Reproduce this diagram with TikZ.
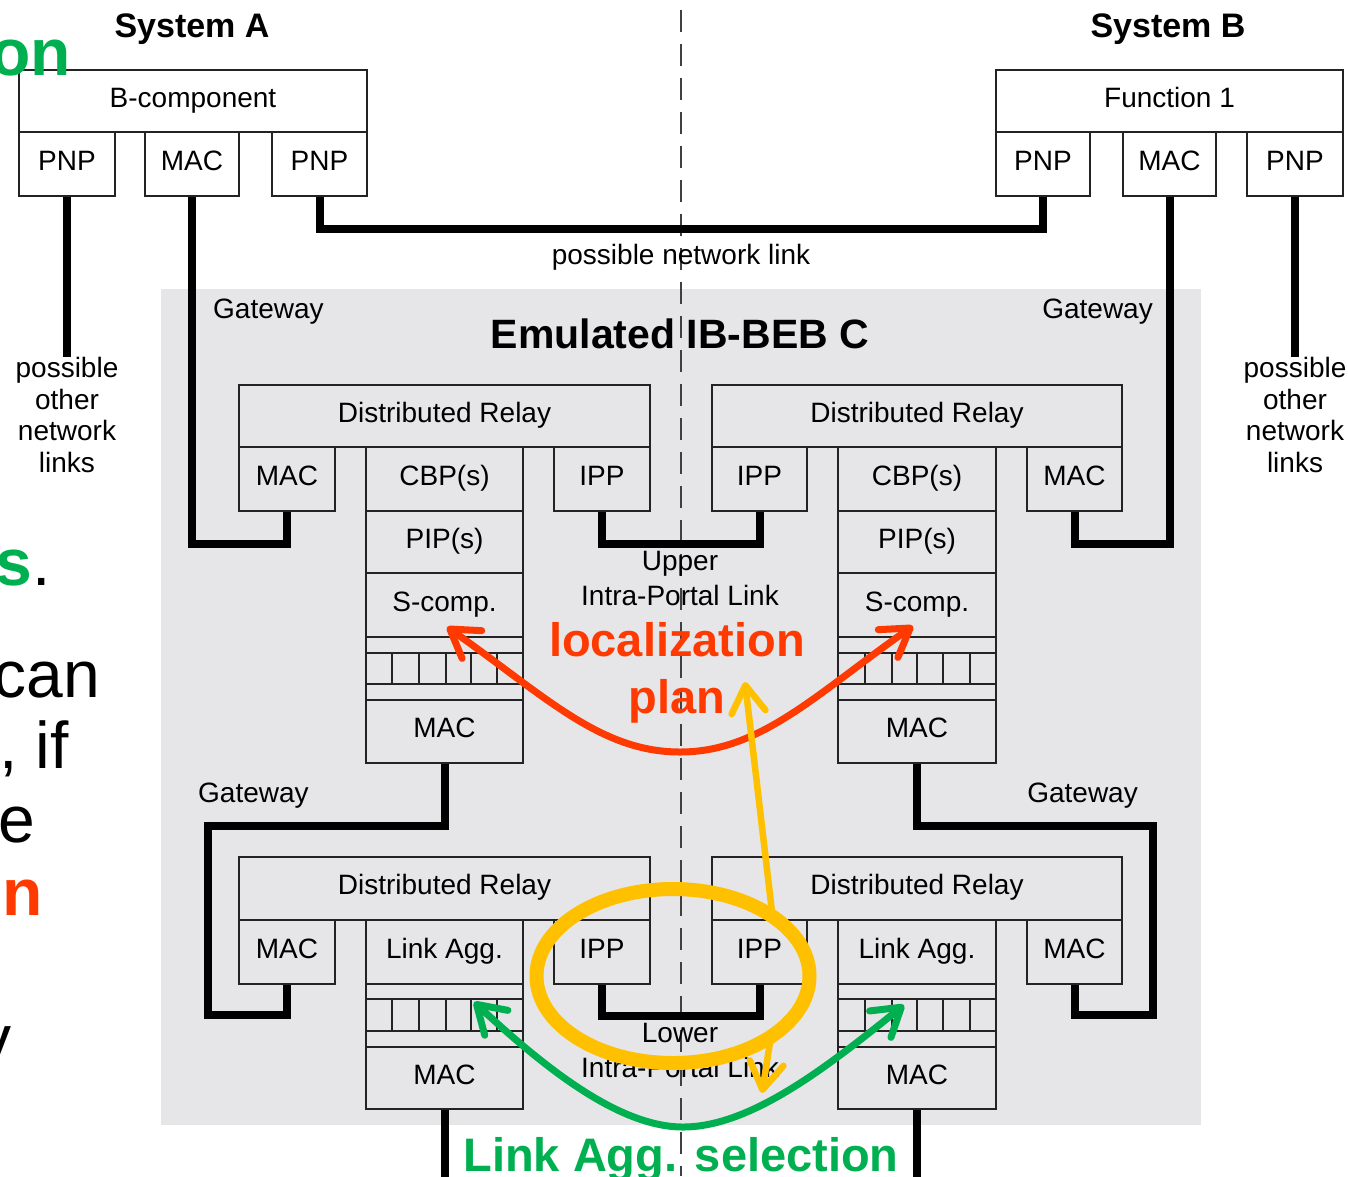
\documentclass[tikz,border=0pt]{standalone}
\usepackage{fontspec}
\setmainfont{Liberation Sans}
\usetikzlibrary{arrows.meta,calc,shapes.geometric}
\definecolor{bggray}{RGB}{230,229,232}
\definecolor{lred}{RGB}{255,58,0}
\definecolor{lyel}{RGB}{255,192,0}
\definecolor{lgrn}{RGB}{0,176,80}
\definecolor{boxline}{RGB}{35,35,35}
\newcommand\lbfont{\fontsize{28}{31.7}\selectfont}
\newcommand\hdfont{\fontsize{34}{40}\selectfont\bfseries}
\newcommand\slfont{\fontsize{66}{80}\selectfont}
\newcommand\bxnode[6]{\node[bx, minimum width={#4-#2}, minimum height={#5-#3}] (#1) at ({(#2+#4)/2},{(#3+#5)/2}) {#6};}
\newcommand\bxempty[5]{\node[bxe, minimum width={#4-#2}, minimum height={#5-#3}] (#1) at ({(#2+#4)/2},{(#3+#5)/2}) {};}
\tikzset{
  bx/.style={draw=boxline, line width=1.4pt, inner sep=0pt, font=\lbfont, text height=20pt, text depth=8pt},
  bxe/.style={draw=boxline, line width=1.4pt, inner sep=0pt, text height=0pt, text depth=0pt},
  qline/.style={draw=boxline, line width=1.4pt},
  wire/.style={line width=8pt, line join=miter, line cap=butt},
  lbl/.style={font=\lbfont, inner sep=0pt},
  hd/.style={font=\hdfont, inner sep=0pt},
  dashline/.style={line width=1.2pt, dash pattern=on 22pt off 12pt, black!75},
  myBarb/.tip={Straight Barb[round, length=27pt, width=34pt]},
  redarr/.style={draw=lred, line width=7pt, line cap=round, {myBarb}-{myBarb}},
  yelarr/.style={draw=lyel, line width=6.5pt, line cap=round, -{myBarb}},
  grnarr/.style={draw=lgrn, line width=7pt, line cap=round, {myBarb}-{myBarb}},
}
\begin{document}
\begin{tikzpicture}[x=1pt,y=-1pt]
\useasboundingbox (0,0) rectangle (1348,1176);
% gray region
\fill[bggray] (161,289) rectangle (1201,1125);
% dashed separator
\coordinate (dtop) at (681,10);
\coordinate (dbot) at (681,1176);
\draw[dashline] (dtop) -- (dbot);

% System A
\bxnode{aB}{19}{70}{367}{132}{B-component}
\bxnode{aP1}{19}{132}{115}{196}{PNP}
\bxnode{aM}{145}{132}{239}{196}{MAC}
\bxnode{aP2}{272}{132}{367}{196}{PNP}
% System B
\bxnode{bF}{996}{70}{1343}{132}{Function 1}
\bxnode{bP1}{996}{132}{1090}{196}{PNP}
\bxnode{bM}{1123}{132}{1216}{196}{MAC}
\bxnode{bP2}{1247}{132}{1343}{196}{PNP}

% upper left
\bxnode{ulDR}{239}{385}{650}{447}{Distributed Relay}
\bxnode{ulMAC}{239}{447}{335}{511}{MAC}
\bxnode{ulCBP}{366}{447}{523}{511}{CBP(s)}
\bxnode{ulPIP}{366}{511}{523}{573}{PIP(s)}
\bxnode{ulS}{366}{573}{523}{637}{S-comp.}
\bxempty{ulG1}{366}{637}{523}{653}
\bxempty{ulQ}{366}{653}{523}{684}
\bxempty{ulG2}{366}{684}{523}{700}
\bxnode{ulMB}{366}{700}{523}{763}{MAC}
\bxnode{ulIPP}{554}{447}{650}{511}{IPP}
\foreach \qx in {392,419,446,471,497} \draw[qline] (\qx,653) -- (\qx,684);

% upper right
\bxnode{urDR}{712}{385}{1122}{447}{Distributed Relay}
\bxnode{urIPP}{712}{447}{807}{511}{IPP}
\bxnode{urCBP}{838}{447}{996}{511}{CBP(s)}
\bxnode{urPIP}{838}{511}{996}{573}{PIP(s)}
\bxnode{urS}{838}{573}{996}{637}{S-comp.}
\bxempty{urG1}{838}{637}{996}{653}
\bxempty{urQ}{838}{653}{996}{684}
\bxempty{urG2}{838}{684}{996}{700}
\bxnode{urMB}{838}{700}{996}{763}{MAC}
\bxnode{urMAC}{1027}{447}{1122}{511}{MAC}
\foreach \qx in {865,892,917,943,970} \draw[qline] (\qx,653) -- (\qx,684);

% lower left
\bxnode{llDR}{239}{857}{650}{920}{Distributed Relay}
\bxnode{llMAC}{239}{920}{335}{984}{MAC}
\bxnode{llLA}{366}{920}{523}{984}{Link Agg.}
\bxempty{llG1}{366}{984}{523}{999}
\bxempty{llQ}{366}{999}{523}{1031}
\bxempty{llG2}{366}{1031}{523}{1047}
\bxnode{llMB}{366}{1047}{523}{1109}{MAC}
\bxnode{llIPP}{554}{920}{650}{984}{IPP}
\foreach \qx in {392,419,446,471,497} \draw[qline] (\qx,999) -- (\qx,1031);

% lower right
\bxnode{lrDR}{712}{857}{1122}{920}{Distributed Relay}
\bxnode{lrIPP}{712}{920}{807}{984}{IPP}
\bxnode{lrLA}{838}{920}{996}{984}{Link Agg.}
\bxempty{lrG1}{838}{984}{996}{999}
\bxempty{lrQ}{838}{999}{996}{1031}
\bxempty{lrG2}{838}{1031}{996}{1047}
\bxnode{lrMB}{838}{1047}{996}{1109}{MAC}
\bxnode{lrMAC}{1027}{920}{1122}{984}{MAC}
\foreach \qx in {865,892,917,943,970} \draw[qline] (\qx,999) -- (\qx,1031);

% texts
\node[hd, anchor=base] (sysA) at (192,37) {System A};
\node[hd, anchor=base] (sysB) at (1168,37) {System B};
\node[lbl, anchor=base] (netlink) at (681,264) {possible network link};
\node[lbl, align=center, anchor=north] (oth1) at (67,357) {possible\\other\\network\\links};
\node[lbl, align=center, anchor=north] (oth2) at (1295,357) {possible\\other\\network\\links};
\node[lbl, anchor=base west] (gw1) at (213,318) {Gateway};
\node[lbl, anchor=base east] (gw2) at (1153,318) {Gateway};
\node[lbl, anchor=base west] (gw3) at (198,802) {Gateway};
\node[lbl, anchor=base east] (gw4) at (1138,802) {Gateway};
\node[font=\fontsize{41}{48}\selectfont\bfseries, inner sep=0pt, anchor=base] (emu) at (680,348) {Emulated IB-BEB C};
\node[lbl, anchor=base] (up1) at (680,570) {Upper};
\node[lbl, anchor=base] (up2) at (680,605) {Intra-Portal Link};
\node[lbl, anchor=base] (lo1) at (680,1042) {Lower};
\node[lbl, anchor=base] (lo2) at (680,1077) {Intra-Portal Link};

% wires
\coordinate (gl1) at (208,826);
\coordinate (gl2) at (208,1015);
\coordinate (gr1) at (1153,826);
\coordinate (gr2) at (1153,1015);
\coordinate (llbot) at (444.5,1180);
\coordinate (lrbot) at (917,1180);
\draw[wire] (aP1.south) -- (oth1.north);
\draw[wire] (aM.south) |- ($(ulMAC.south)+(0,32)$) -- (ulMAC.south);
\draw[wire] (aP2.south) -- ++(0,32) -| (bP1.south);
\draw[wire] (bM.south) |- ($(urMAC.south)+(0,32)$) -- (urMAC.south);
\draw[wire] (bP2.south) -- (oth2.north);
\draw[wire] (ulIPP.south) -- ++(0,32) -| (urIPP.south);
\draw[wire] (ulMB.south) |- (gl1) -- (gl2) -| (llMAC.south);
\draw[wire] (urMB.south) |- (gr1) -- (gr2) -| (lrMAC.south);
\draw[wire] (llIPP.south) -- ++(0,31) -| (lrIPP.south);
\draw[wire] (llMB.south) -- (llbot);
\draw[wire] (lrMB.south) -- (lrbot);

% slide fragments at left edge
\node[font=\slfont\bfseries, text=lgrn, inner sep=0pt, anchor=base east] (fr1) at (71,75) {on};
\node[font=\slfont, inner sep=0pt, anchor=base east] (fr2) at (51,585) {\textcolor{lgrn}{\bfseries s}.};
\node[font=\slfont, inner sep=0pt, anchor=base east] (fr3) at (100,697) {can};
\node[font=\slfont, inner sep=0pt, anchor=base east] (fr4) at (69,768) {, if};
\node[font=\slfont, inner sep=0pt, anchor=base east] (fr5) at (35,842) {e};
\node[font=\slfont\bfseries, text=lred, inner sep=0pt, anchor=base east] (fr6) at (43,915) {n};
\node[font=\slfont, inner sep=0pt, anchor=base east] (fr7) at (12,1061) {y};

% annotations
\node[font=\fontsize{47}{56}\selectfont\bfseries, text=lred, inner sep=0pt, anchor=base] (loc) at (677,656) {localization};
\node[font=\fontsize{47}{56}\selectfont\bfseries, text=lred, inner sep=0pt, anchor=base] (plan) at (677,713) {plan};
\coordinate (rL) at (447,627);
\coordinate (rM) at (680,752);
\coordinate (rR) at (913,626);
\draw[redarr] (rL) .. controls (545,696) and (600,752) .. (rM) .. controls (760,752) and (815,695) .. (rR);

\node[draw=lyel, line width=14pt, ellipse, minimum width=273pt, minimum height=174pt, inner sep=0pt] (sel) at (673,976) {};
\coordinate (ya1) at (772,912);
\coordinate (ya2) at (745,682);
\coordinate (yb1) at (771,1036);
\coordinate (yb2) at (762,1093);
\draw[yelarr] (ya1) -- (ya2);
\draw[yelarr] (yb1) -- (yb2);

\coordinate (gL) at (474,1002);
\coordinate (gM) at (683,1127);
\coordinate (gR) at (904,1005);
\draw[grnarr] (gL) .. controls (547,1070) and (620,1127) .. (gM) .. controls (750,1127) and (826,1068) .. (gR);
\node[font=\fontsize{47}{56}\selectfont\bfseries, text=lgrn, inner sep=0pt, anchor=base] (lasel) at (681,1171) {Link Agg. selection};
\end{tikzpicture}
\end{document}
